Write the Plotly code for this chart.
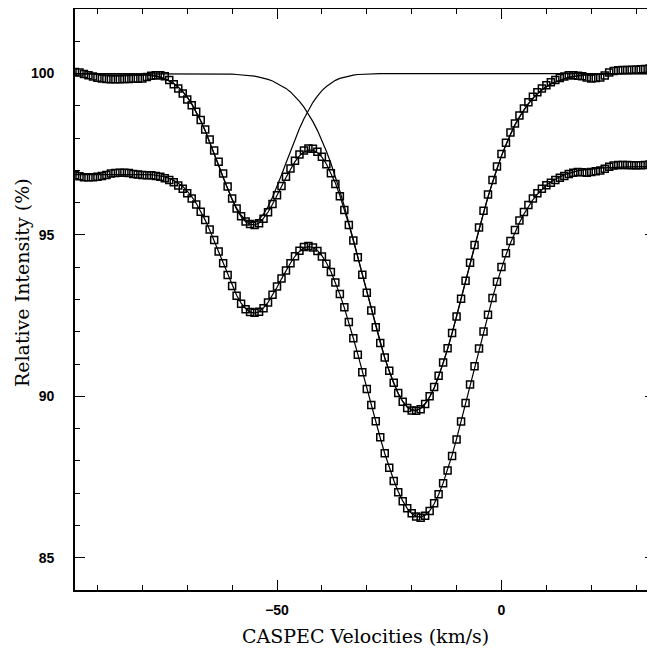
import plotly.graph_objects as go

velocity = [-95, -94, -93, -92, -91, -90, -89, -88, -87, -86, -85, -84, -83, -82, -81, -80,
            -79, -78, -77, -76, -75, -74, -73, -72, -71, -70, -69, -68, -67, -66, -65, -64,
            -63, -62, -61, -60, -59, -58, -57, -56, -55, -54, -53, -52, -51, -50, -49, -48,
            -47, -46, -45, -44, -43, -42, -41, -40, -39, -38, -37, -36, -35, -34, -33, -32,
            -31, -30, -29, -28, -27, -26, -25, -24, -23, -22, -21, -20, -19, -18, -17, -16,
            -15, -14, -13, -12, -11, -10, -9, -8, -7, -6, -5, -4, -3, -2, -1, 0,
            1, 2, 3, 4, 5, 6, 7, 8, 9, 10, 11, 12, 13, 14, 15, 16,
            17, 18, 19, 20, 21, 22, 23, 24, 25, 26, 27, 28, 29, 30, 31, 32, 33, 34]

upper_data = [100.05, 100.03, 99.99, 99.95, 99.91, 99.87, 99.85, 99.83, 99.82, 99.82, 99.82, 99.83, 99.83, 99.85, 99.84, 99.85,
              99.89, 99.93, 99.95, 99.95, 99.92, 99.80, 99.67, 99.54, 99.38, 99.20, 99.02, 98.82, 98.56, 98.27, 97.96, 97.62,
              97.27, 96.90, 96.50, 96.13, 95.82, 95.58, 95.42, 95.34, 95.31, 95.36, 95.50, 95.70, 95.96, 96.23, 96.52, 96.80,
              97.06, 97.30, 97.49, 97.62, 97.68, 97.67, 97.58, 97.42, 97.19, 96.91, 96.58, 96.20, 95.77, 95.31, 94.83, 94.31,
              93.77, 93.21, 92.66, 92.14, 91.65, 91.20, 90.79, 90.42, 90.10, 89.83, 89.64, 89.56, 89.55, 89.60, 89.76, 90.00,
              90.29, 90.64, 91.05, 91.49, 91.96, 92.47, 93.02, 93.58, 94.14, 94.69, 95.23, 95.75, 96.25, 96.70, 97.12, 97.51,
              97.86, 98.17, 98.45, 98.70, 98.92, 99.11, 99.28, 99.42, 99.54, 99.64, 99.73, 99.80, 99.86, 99.91, 99.95, 99.95,
              99.93, 99.92, 99.88, 99.85, 99.86, 99.88, 99.94, 100.03, 100.08, 100.10, 100.11, 100.11, 100.12, 100.12, 100.13, 100.14, 100.16, 100.17]

upper_fit = [100.00, 100.00, 100.00, 100.00, 100.00, 100.00, 100.00, 100.00, 100.00, 100.00, 100.00, 100.00, 100.00, 100.00, 99.99, 99.98,
             99.96, 99.95, 99.92, 99.89, 99.84, 99.77, 99.69, 99.58, 99.44, 99.27, 99.06, 98.82, 98.54, 98.23, 97.89, 97.52,
             97.15, 96.78, 96.42, 96.09, 95.80, 95.57, 95.41, 95.33, 95.31, 95.37, 95.52, 95.71, 95.95, 96.21, 96.50, 96.78,
             97.04, 97.27, 97.45, 97.57, 97.63, 97.63, 97.55, 97.41, 97.20, 96.93, 96.61, 96.22, 95.78, 95.32, 94.82, 94.30,
             93.76, 93.22, 92.68, 92.16, 91.66, 91.19, 90.77, 90.40, 90.09, 89.84, 89.67, 89.58, 89.56, 89.63, 89.77, 89.98,
             90.26, 90.61, 91.02, 91.47, 91.95, 92.47, 93.01, 93.56, 94.11, 94.65, 95.18, 95.69, 96.18, 96.63, 97.06, 97.45,
             97.80, 98.12, 98.41, 98.66, 98.88, 99.07, 99.24, 99.38, 99.49, 99.59, 99.68, 99.74, 99.80, 99.84, 99.88, 99.91,
             99.93, 99.95, 99.96, 99.97, 99.98, 99.98, 99.99, 99.99, 100.00, 100.00, 100.00, 100.00, 100.00, 100.00, 100.00, 100.00, 100.00, 100.00]

main_component = [100.00, 100.00, 100.00, 100.00, 100.00, 100.00, 100.00, 100.00, 100.00, 100.00, 100.00, 100.00, 100.00, 100.00, 100.00, 100.00,
                  100.00, 100.00, 100.00, 100.00, 100.00, 100.00, 100.00, 100.00, 100.00, 100.00, 100.00, 100.00, 100.00, 100.00, 100.00, 99.99,
                  99.99, 99.99, 99.99, 99.98, 99.97, 99.96, 99.95, 99.94, 99.92, 99.89, 99.86, 99.82, 99.77, 99.70, 99.63, 99.54,
                  99.43, 99.30, 99.14, 98.96, 98.75, 98.51, 98.24, 97.93, 97.59, 97.22, 96.81, 96.36, 95.89, 95.39, 94.87, 94.33,
                  93.78, 93.23, 92.68, 92.16, 91.66, 91.19, 90.77, 90.40, 90.09, 89.84, 89.67, 89.58, 89.56, 89.63, 89.77, 89.98,
                  90.26, 90.61, 91.02, 91.47, 91.95, 92.47, 93.01, 93.56, 94.11, 94.65, 95.18, 95.69, 96.18, 96.63, 97.06, 97.45,
                  97.80, 98.12, 98.41, 98.66, 98.88, 99.07, 99.24, 99.38, 99.49, 99.59, 99.68, 99.74, 99.80, 99.84, 99.88, 99.91,
                  99.93, 99.95, 99.96, 99.97, 99.98, 99.98, 99.99, 99.99, 100.00, 100.00, 100.00, 100.00, 100.00, 100.00, 100.00, 100.00, 100.00, 100.00]

second_component = [100.00, 100.00, 100.00, 100.00, 100.00, 100.00, 100.00, 100.00, 100.00, 100.00, 100.00, 100.00, 100.00, 100.00, 99.99, 99.98,
                    99.96, 99.95, 99.92, 99.89, 99.84, 99.77, 99.69, 99.58, 99.44, 99.27, 99.06, 98.82, 98.54, 98.23, 97.89, 97.53,
                    97.16, 96.79, 96.43, 96.11, 95.83, 95.61, 95.46, 95.39, 95.39, 95.48, 95.65, 95.88, 96.17, 96.50, 96.86, 97.23,
                    97.60, 97.96, 98.30, 98.60, 98.87, 99.11, 99.30, 99.47, 99.60, 99.70, 99.79, 99.85, 99.89, 99.93, 99.95, 99.97,
                    99.98, 99.99, 100.00, 100.00, 100.00, 100.00, 100.00, 100.00, 100.00, 100.00, 100.00, 100.00, 100.00, 100.00, 100.00, 100.00,
                    100.00, 100.00, 100.00, 100.00, 100.00, 100.00, 100.00, 100.00, 100.00, 100.00, 100.00, 100.00, 100.00, 100.00, 100.00, 100.00,
                    100.00, 100.00, 100.00, 100.00, 100.00, 100.00, 100.00, 100.00, 100.00, 100.00, 100.00, 100.00, 100.00, 100.00, 100.00, 100.00,
                    100.00, 100.00, 100.00, 100.00, 100.00, 100.00, 100.00, 100.00, 100.00, 100.00, 100.00, 100.00, 100.00, 100.00, 100.00, 100.00, 100.00, 100.00]

lower_data = [96.85, 96.82, 96.79, 96.79, 96.79, 96.80, 96.83, 96.86, 96.90, 96.92, 96.93, 96.93, 96.92, 96.89, 96.87, 96.86,
              96.85, 96.85, 96.83, 96.80, 96.76, 96.70, 96.63, 96.53, 96.43, 96.29, 96.13, 95.94, 95.72, 95.46, 95.17, 94.84,
              94.49, 94.12, 93.76, 93.42, 93.12, 92.87, 92.70, 92.61, 92.59, 92.62, 92.73, 92.91, 93.15, 93.40, 93.65, 93.90,
              94.12, 94.34, 94.51, 94.63, 94.66, 94.61, 94.50, 94.33, 94.11, 93.85, 93.53, 93.17, 92.76, 92.30, 91.80, 91.29,
              90.75, 90.23, 89.73, 89.23, 88.73, 88.24, 87.79, 87.38, 87.03, 86.75, 86.53, 86.38, 86.28, 86.24, 86.30, 86.45,
              86.69, 86.97, 87.31, 87.70, 88.15, 88.66, 89.22, 89.79, 90.37, 90.93, 91.48, 92.01, 92.53, 93.05, 93.55, 94.01,
              94.43, 94.81, 95.15, 95.45, 95.71, 95.93, 96.13, 96.29, 96.43, 96.54, 96.62, 96.70, 96.77, 96.83, 96.89, 96.93,
              96.95, 96.94, 96.93, 96.95, 96.97, 97.00, 97.05, 97.11, 97.15, 97.17, 97.17, 97.17, 97.16, 97.16, 97.16, 97.17, 97.18, 97.19]

lower_fit = [96.87, 96.87, 96.87, 96.88, 96.88, 96.88, 96.88, 96.88, 96.89, 96.89, 96.89, 96.89, 96.89, 96.89, 96.89, 96.89,
             96.88, 96.87, 96.85, 96.83, 96.80, 96.75, 96.69, 96.60, 96.50, 96.36, 96.19, 95.98, 95.74, 95.46, 95.15, 94.81,
             94.46, 94.10, 93.75, 93.42, 93.13, 92.89, 92.72, 92.61, 92.58, 92.62, 92.74, 92.91, 93.13, 93.38, 93.64, 93.90,
             94.13, 94.34, 94.49, 94.60, 94.64, 94.61, 94.52, 94.36, 94.14, 93.87, 93.53, 93.16, 92.74, 92.29, 91.80, 91.30,
             90.77, 90.25, 89.73, 89.21, 88.71, 88.23, 87.79, 87.40, 87.05, 86.76, 86.53, 86.37, 86.28, 86.26, 86.32, 86.45,
             86.67, 86.96, 87.31, 87.72, 88.18, 88.68, 89.22, 89.77, 90.34, 90.90, 91.46, 92.01, 92.54, 93.05, 93.53, 93.97,
             94.38, 94.75, 95.08, 95.38, 95.65, 95.88, 96.09, 96.26, 96.41, 96.54, 96.64, 96.73, 96.80, 96.86, 96.91, 96.95,
             96.99, 97.01, 97.03, 97.05, 97.06, 97.07, 97.08, 97.09, 97.10, 97.10, 97.10, 97.11, 97.11, 97.11, 97.11, 97.12, 97.12, 97.12]

x_range = [-95, 34.2]
y_range = [84, 102]

line_style = dict(color="black", width=1.2)
marker_style = dict(symbol="square-open", size=7, color="black", line=dict(width=1.5, color="black"))

fig = go.Figure()
fig.add_trace(go.Scatter(x=velocity, y=main_component, mode="lines", line=line_style, hoverinfo="skip"))
fig.add_trace(go.Scatter(x=velocity, y=second_component, mode="lines", line=line_style, hoverinfo="skip", yaxis="y2"))
fig.add_trace(go.Scatter(x=velocity, y=upper_fit, mode="lines", line=line_style, hoverinfo="skip"))
fig.add_trace(go.Scatter(x=velocity, y=lower_fit, mode="lines", line=line_style, hoverinfo="skip"))
fig.add_trace(go.Scatter(x=velocity, y=upper_data, mode="markers", marker=marker_style))
fig.add_trace(go.Scatter(x=velocity, y=lower_data, mode="markers", marker=marker_style))

tick_font = dict(family="Liberation Sans, Arial, sans-serif", size=14, color="black", weight="bold")
title_font = dict(family="DejaVu Serif, serif", size=19, color="black")

fig.update_layout(
    width=647, height=641,
    margin=dict(l=67, r=0, t=1, b=59),
    paper_bgcolor="white", plot_bgcolor="white",
    showlegend=False,
    xaxis=dict(range=x_range, showgrid=False, zeroline=False,
               showline=True, linecolor="black", linewidth=1.6, mirror="ticks",
               ticks="inside", ticklen=10, tickwidth=1.3, tickcolor="black",
               tick0=0, dtick=50, tickfont=tick_font, ticklabelstandoff=6,
               minor=dict(ticks="inside", ticklen=5, tickwidth=1.2, tickcolor="black", dtick=10, showgrid=False)),
    yaxis=dict(range=y_range, showgrid=False, zeroline=False,
               showline=True, linecolor="black", linewidth=1.6, mirror=False,
               ticks="inside", ticklen=10, tickwidth=1.3, tickcolor="black",
               tick0=0, dtick=5, tickfont=tick_font, ticklabelstandoff=16,
               minor=dict(ticks="inside", ticklen=5, tickwidth=1.2, tickcolor="black", dtick=1, showgrid=False)),
    yaxis2=dict(range=y_range, overlaying="y", side="right", showgrid=False, zeroline=False,
                showline=False, showticklabels=False,
                ticks="inside", ticklen=10, tickwidth=1.3, tickcolor="black", tick0=0, dtick=5,
                minor=dict(ticks="inside", ticklen=5, tickwidth=1.2, tickcolor="black", dtick=1, showgrid=False)),
    annotations=[
        dict(text="CASPEC Velocities (km/s)", xref="paper", yref="paper", x=0.5, y=-0.079,
             xanchor="center", yanchor="middle", showarrow=False, font=title_font),
        dict(text="Relative Intensity (%)", xref="paper", yref="paper", x=-0.0914, y=0.530,
             xanchor="center", yanchor="middle", textangle=-90, showarrow=False, font=title_font),
    ],
)

fig.write_html("out.html")
